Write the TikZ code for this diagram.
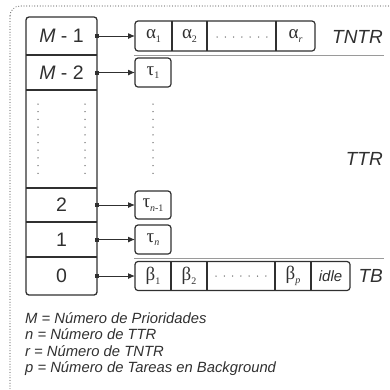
\documentclass[tikz,border=0pt]{standalone}
\usepackage{fontspec}
\setmainfont{Liberation Sans}
\newfontfamily\grk{Liberation Serif}
\usetikzlibrary{positioning,arrows.meta}
\definecolor{ink}{HTML}{303030}
\definecolor{rule}{HTML}{9A9A9A}
\newcommand{\idx}[1]{\raisebox{-3.5pt}{\fontsize{10}{10}\selectfont #1}}
\tikzset{
  prow/.style={minimum width=71pt, inner sep=0pt, outer sep=0pt, text=ink,
    font=\fontsize{19.5}{22}\selectfont},
  cell/.style={minimum width=#1, minimum height=29pt, inner sep=0pt, outer sep=0pt,
    text=ink, font=\grk\fontsize{19}{20}\selectfont},
  tbox/.style={cell=36pt, draw=ink, line width=1.2pt, rounded corners=3pt},
  link/.style={{Square[length=4pt,width=4pt]}-{Latex[length=7pt,width=6pt]},
    shorten <=-2pt, draw=ink, fill=ink, line width=1pt},
  grp/.style={anchor=east, inner sep=0pt, text=ink,
    font=\itshape\fontsize{19}{22}\selectfont},
  leg/.style={anchor=base west, inner sep=0pt, text=ink,
    font=\itshape\fontsize{14.8}{17}\selectfont},
  pdot/.style={fill=ink!70, circle, inner sep=0pt, minimum size=1.5pt},
}
\begin{document}
\begin{tikzpicture}[x=1pt,y=-1pt]
\useasboundingbox (0,0) rectangle (390,389);
\clip (0,0) rectangle (390,389);
% outer frame
\draw[ink!70, line width=1.2pt, dash pattern=on 0pt off 2.7pt, line cap=round,
  rounded corners=10pt] (10,6) rectangle (430,420);
% priority column
\node[prow, minimum height=38pt] (rM1) at (61.5,36) {{\itshape M} - 1};
\node[prow, minimum height=35pt] (rM2) at (61.5,72.5) {{\itshape M} - 2};
\node[prow, minimum height=98pt] (rdots) at (61.5,139) {};
\node[prow, minimum height=34pt] (r2) at (61.5,205) {2};
\node[prow, minimum height=35pt] (r1) at (61.5,239.5) {1};
\node[prow, minimum height=38pt] (r0) at (61.5,276) {0};
\draw[ink, line width=1.3pt, rounded corners=3pt] (rM1.north west) rectangle (r0.south east);
\draw[ink, line width=1.3pt] (rM1.south west) -- (rM1.south east);
\draw[ink, line width=1.3pt] (rM2.south west) -- (rM2.south east);
\draw[ink, line width=1.3pt] (rdots.south west) -- (rdots.south east);
\draw[ink, line width=1.3pt] (r2.south west) -- (r2.south east);
\draw[ink, line width=1.3pt] (r1.south west) -- (r1.south east);
% TNTR
\node[cell=37pt, minimum height=30pt] (a1) at (153.5,36) {α\idx{1}};
\node[cell=35pt, minimum height=30pt, right=0pt of a1] (a2) {α\idx{2}};
\node[cell=69pt, minimum height=30pt, right=0pt of a2] (adots) {};
\node[cell=39pt, minimum height=30pt, right=0pt of adots] (ar) {α\idx{\itshape r}};
\draw[ink, line width=1.2pt, rounded corners=3pt] (a1.north west) rectangle (ar.south east);
\draw[ink, line width=1.2pt] (a1.north east) -- (a1.south east);
\draw[ink, line width=1.2pt] (a2.north east) -- (a2.south east);
\draw[ink, line width=1.2pt] (adots.north east) -- (adots.south east);
\foreach \k in {0,...,6}
  \node[pdot] at (217+8.3*\k,37) {};
\node[grp] (tntr) at (383,37) {TNTR};
\draw[rule, line width=1pt] (134,55) -- (384,55);
% TTR
\node[tbox] (t1) at (153,72.5) {τ\idx{1}};
\node[tbox, minimum height=28pt] (tn1) at (153,205) {τ\idx{\itshape n\upshape -1}};
\node[tbox] (tn) at (153,239.5) {τ\idx{\itshape n}};
\foreach \k in {0,...,9} {
  \node[pdot] at (38,104+7.7*\k) {};
  \node[pdot] at (85,104+7.7*\k) {};
  \node[pdot] at (153,104+7.7*\k) {};
}
\node[grp] (ttr) at (383,159) {TTR};
\draw[rule, line width=1pt] (134,258) -- (384,258);
% TB
\node[cell=36pt] (b1) at (153,276) {β\idx{1}};
\node[cell=36pt, right=0pt of b1] (b2) {β\idx{2}};
\node[cell=68pt, right=0pt of b2] (bdots) {};
\node[cell=36pt, right=0pt of bdots] (bp) {β\idx{\itshape p}};
\node[cell=39pt, right=0pt of bp, font=\itshape\fontsize{15}{17}\selectfont] (bidle) {idle};
\draw[ink, line width=1.2pt, rounded corners=3pt] (b1.north west) rectangle (bidle.south east);
\draw[ink, line width=1.2pt] (b1.north east) -- (b1.south east);
\draw[ink, line width=1.2pt] (b2.north east) -- (b2.south east);
\draw[ink, line width=1.2pt] (bdots.north east) -- (bdots.south east);
\draw[ink, line width=1.2pt] (bp.north east) -- (bp.south east);
\foreach \k in {0,...,6}
  \node[pdot] at (216+8.3*\k,276) {};
\node[grp] (tb) at (383,276) {TB};
% links
\draw[link] (rM1.east) -- (a1.west);
\draw[link] (rM2.east) -- (t1.west);
\draw[link] (r2.east) -- (tn1.west);
\draw[link] (r1.east) -- (tn.west);
\draw[link] (r0.east) -- (b1.west);
% legend
\node[leg] (legM) at (25,323) {M = Número de Prioridades};
\node[leg] (legn) at (25,339.5) {n = Número de TTR};
\node[leg] (legr) at (25,356) {r = Número de TNTR};
\node[leg] (legp) at (25,372.5) {p = Número de Tareas en Background};
\end{tikzpicture}
\end{document}
